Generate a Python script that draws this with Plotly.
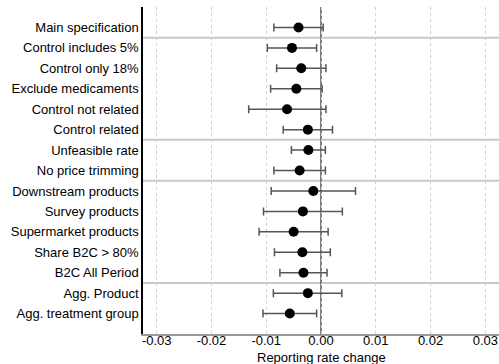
import plotly.graph_objects as go

categories = ["Main specification", "Control includes 5%", "Control only 18%",
              "Exclude medicaments", "Control not related", "Control related",
              "Unfeasible rate", "No price trimming", "Downstream products",
              "Survey products", "Supermarket products", "Share B2C > 80%",
              "B2C All Period", "Agg. Product", "Agg. treatment group"]
estimate = [-0.0041, -0.0053, -0.0036, -0.0045, -0.0062, -0.0024,
            -0.0023, -0.0039, -0.0014, -0.0033, -0.0050, -0.0034,
            -0.0032, -0.0024, -0.0057]
ci_low = [-0.0086, -0.0098, -0.0081, -0.0092, -0.0132, -0.0069,
          -0.0054, -0.0086, -0.0091, -0.0105, -0.0113, -0.0085,
          -0.0075, -0.0087, -0.0106]
ci_high = [0.0004, -0.0008, 0.0009, 0.0002, 0.0009, 0.0021,
           0.0008, 0.0008, 0.0063, 0.0039, 0.0013, 0.0017,
           0.0011, 0.0038, -0.0008]
x_ticks = [-0.03, -0.02, -0.01, 0.0, 0.01, 0.02, 0.03]
x_tick_labels = ["-0.03", "-0.02", "-0.01", "0.00", "0.01", "0.02", "0.03"]
separators_after = [0, 5, 7, 12]

ypos = list(range(len(categories)))
err_plus = [h - e for h, e in zip(ci_high, estimate)]
err_minus = [e - l for e, l in zip(estimate, ci_low)]

FONT = "Liberation Sans, Arial, sans-serif"

fig = go.Figure()
fig.add_trace(go.Scatter(
    x=estimate, y=ypos, mode="markers",
    marker=dict(color="black", size=10),
    error_x=dict(type="data", symmetric=False, array=err_plus, arrayminus=err_minus,
                 color="#555555", thickness=1.5, width=4),
    showlegend=False, hoverinfo="skip"))

for s in separators_after:
    fig.add_shape(type="line", xref="paper", x0=0, x1=1, yref="y", y0=s + 0.5, y1=s + 0.5,
                  line=dict(color="#c8c8c8", width=2), layer="below")

fig.add_shape(type="line", xref="x", x0=0, x1=0, yref="paper", y0=0, y1=1,
              line=dict(color="#555555", width=1.5), layer="below")

fig.add_annotation(text="Reporting rate change", xref="paper", yref="paper",
                   x=0.5, y=-23 / 327, xanchor="center", yanchor="middle",
                   showarrow=False, font=dict(family=FONT, size=13, color="black"))

fig.update_layout(
    width=499, height=364,
    margin=dict(l=143, r=0, t=7, b=30),
    paper_bgcolor="white", plot_bgcolor="white",
    font=dict(family=FONT, size=13, color="black"),
    xaxis=dict(range=[-0.0325, 0.0325], tickvals=x_ticks, ticktext=x_tick_labels,
               showgrid=True, gridcolor="#d0d0d0", griddash="dot", gridwidth=1,
               zeroline=False, showline=True, linecolor="#999999", linewidth=2,
               ticks="", automargin=False, tickfont=dict(size=13),
               ticklabelstandoff=-7),
    yaxis=dict(range=[len(categories), -1], tickvals=ypos, ticktext=categories,
               showgrid=False, zeroline=False, showline=True, linecolor="black",
               linewidth=1.5, ticks="", automargin=False, tickfont=dict(size=13)),
)

fig.write_html("out.html", config={"displayModeBar": False},
               post_script="document.body.style.margin='0';document.body.style.overflow='hidden';")
